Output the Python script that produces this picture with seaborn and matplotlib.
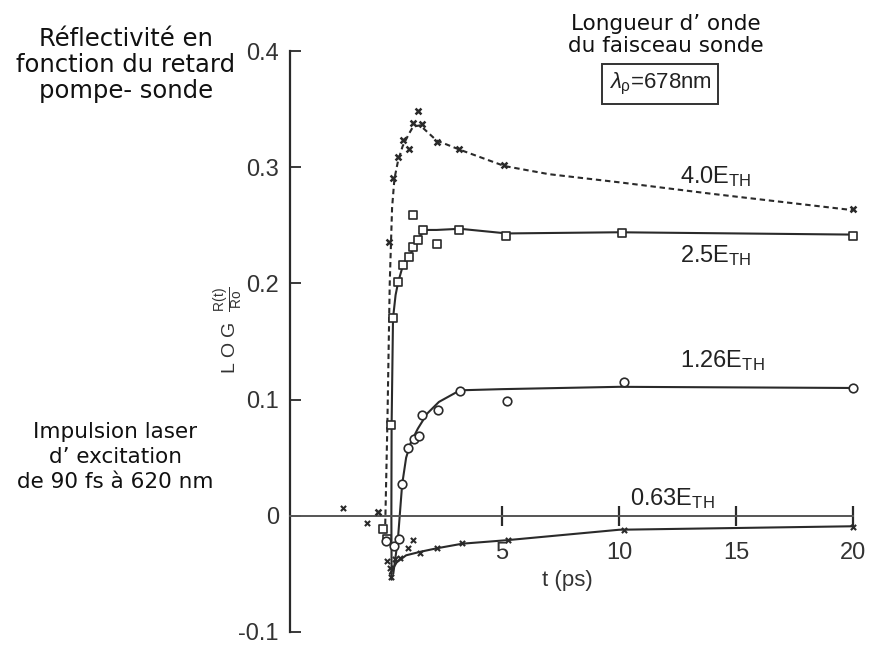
import matplotlib
matplotlib.use("Agg")
import matplotlib.pyplot as plt
import seaborn as sns

# Pump-probe reflectivity, LOG R(t)/Ro versus delay t (ps), four pump fluences
# measured points
t_40 = [-0.3, 0.17, 0.34, 0.56, 0.77, 1.03, 1.2, 1.41, 1.58, 2.2, 3.16, 5.1, 20.0]
r_40 = [0.003, 0.236, 0.291, 0.309, 0.323, 0.316, 0.338, 0.348, 0.337, 0.322, 0.316, 0.302, 0.264]

t_25 = [-0.09, 0.09, 0.26, 0.34, 0.56, 0.77, 1.03, 1.2, 1.2, 1.41, 1.62, 2.2, 3.16, 5.17, 10.1, 20.0]
r_25 = [-0.011, -0.020, 0.078, 0.170, 0.201, 0.216, 0.223, 0.231, 0.259, 0.237, 0.246, 0.234, 0.246, 0.241, 0.243, 0.241]

t_126 = [0.04, 0.4, 0.6, 0.73, 0.98, 1.24, 1.45, 1.58, 2.26, 3.2, 5.2, 10.2, 20.0]
r_126 = [-0.022, -0.026, -0.020, 0.027, 0.058, 0.066, 0.069, 0.087, 0.091, 0.107, 0.099, 0.115, 0.110]

t_063 = [-1.8, -0.77, 0.07, 0.2, 0.25, 0.43, 0.64, 1.0, 1.2, 1.5, 2.2, 3.3, 5.25, 10.2, 20.0]
r_063 = [0.007, -0.006, -0.039, -0.045, -0.053, -0.037, -0.036, -0.028, -0.021, -0.032, -0.028, -0.023, -0.021, -0.012, -0.0095]

# hand-drawn guide curves through each set
c40_t = [0.0, 0.1, 0.2, 0.3, 0.4, 0.55, 0.75, 1.0, 1.2, 1.5, 2.2, 3.2, 5.1, 7.0, 10.0, 14.0, 20.0]
c40_r = [-0.015, 0.08, 0.2, 0.265, 0.29, 0.305, 0.318, 0.328, 0.335, 0.336, 0.323, 0.315, 0.301, 0.294, 0.287, 0.277, 0.263]

c25_t = [0.28, 0.27, 0.28, 0.34, 0.45, 0.56, 0.77, 1.05, 1.3, 1.5, 1.7, 2.2, 3.2, 5.2, 10.0, 20.0]
c25_r = [-0.055, 0.0, 0.078, 0.17, 0.19, 0.201, 0.216, 0.224, 0.233, 0.241, 0.246, 0.246, 0.247, 0.243, 0.244, 0.242]

c126_t = [0.35, 0.55, 0.73, 0.9, 1.1, 1.4, 1.8, 2.3, 3.2, 5.0, 10.0, 20.0]
c126_r = [-0.05, -0.02, 0.027, 0.05, 0.063, 0.075, 0.088, 0.098, 0.108, 0.109, 0.111, 0.110]

c063_t = [0.2, 0.5, 0.9, 1.5, 2.2, 3.3, 5.2, 10.0, 20.0]
c063_r = [-0.05, -0.040, -0.034, -0.031, -0.028, -0.024, -0.021, -0.012, -0.009]

x_ticks = [5, 10, 15, 20]
y_ticks = [-0.1, 0.0, 0.1, 0.2, 0.3, 0.4]
y_tick_labels = ["-0.1", "0", "0.1", "0.2", "0.3", "0.4"]

sns.set_theme(style="white")
plt.rcParams["font.family"] = ["Liberation Sans", "DejaVu Sans"]
plt.rcParams["mathtext.fontset"] = "custom"
plt.rcParams["mathtext.rm"] = "Liberation Sans"
plt.rcParams["mathtext.it"] = "Liberation Sans:italic"
plt.rcParams["mathtext.bf"] = "Liberation Sans:bold"

W, H = 869, 646
INK = "#2a2a2a"

fig = plt.figure(figsize=(W / 100, H / 100), dpi=100)
ax = fig.add_axes([290 / W, 14 / H, 575 / W, 581 / H])
ax.set_facecolor("white")


def fpos(x, y):
    return x / W, 1 - y / H


# guide curves
sns.lineplot(x=c40_t, y=c40_r, ax=ax, color=INK, lw=1.5, sort=False,
             estimator=None, linestyle=(0, (2.6, 1.8)))
for ct, cr in [(c25_t, c25_r), (c126_t, c126_r), (c063_t, c063_r)]:
    sns.lineplot(x=ct, y=cr, ax=ax, color=INK, lw=1.5, sort=False, estimator=None)

# measured points
sns.scatterplot(x=t_40, y=r_40, ax=ax, marker="x", s=18, color=INK, linewidth=1.8, zorder=5)
sns.scatterplot(x=t_063, y=r_063, ax=ax, marker="x", s=14, color=INK, linewidth=1.5, zorder=5)
sns.scatterplot(x=t_25, y=r_25, ax=ax, marker="s", s=40, facecolor="white",
                edgecolor=INK, linewidth=1.2, zorder=6)
sns.scatterplot(x=t_126, y=r_126, ax=ax, marker="o", s=38, facecolor="white",
                edgecolor=INK, linewidth=1.2, zorder=6)

ax.set_xlim(-4.06, 20.5)
ax.set_ylim(-0.1, 0.4)

for side in ("top", "right"):
    ax.spines[side].set_visible(False)
ax.spines["left"].set_color(INK)
ax.spines["left"].set_linewidth(1.6)
ax.spines["left"].set_bounds(-0.1, 0.4)
ax.spines["bottom"].set_position(("data", 0))
ax.spines["bottom"].set_bounds(-4.06, 20)
ax.spines["bottom"].set_color("#555555")
ax.spines["bottom"].set_linewidth(1.4)

ax.set_yticks(y_ticks)
ax.set_yticklabels(y_tick_labels)
ax.tick_params(axis="y", direction="in", length=8, width=1.3, color=INK,
               labelsize=17, labelcolor="#333333", pad=8, left=True)
ax.set_xticks(x_ticks)
ax.set_xticklabels([str(v) for v in x_ticks])
ax.tick_params(axis="x", direction="inout", length=14, width=1.6, color=INK,
               labelsize=17, labelcolor="#333333", pad=12, bottom=True)
ax.set_xlabel("")
ax.set_ylabel("")

# axis titles
ax.text(7.8, -0.056, "t (ps)", fontsize=16, color="#333333", ha="center", va="center")
fig.text(*fpos(229, 330), r"L O G  $\frac{\mathrm{R(t)}}{\mathrm{Ro}}$", rotation=90,
         fontsize=14, color="#333333", ha="center", va="center")

# fluence labels
lab_kw = dict(fontsize=17, color="#222222", ha="left", va="center")
fig.text(*fpos(680, 177), r"4.0E$_{\mathrm{TH}}$", **lab_kw)
fig.text(*fpos(680, 256), r"2.5E$_{\mathrm{TH}}$", **lab_kw)
fig.text(*fpos(680, 361), r"1.26E$_{\mathrm{TH}}$", **lab_kw)
fig.text(*fpos(630, 499), r"0.63E$_{\mathrm{TH}}$", **lab_kw)

# probe wavelength box
fig.text(*fpos(660, 84), r"$\lambda_{\mathrm{\rho}}$=678nm", fontsize=16, color="#222222",
         ha="center", va="center",
         bbox=dict(boxstyle="square,pad=0.3", fc="white", ec="#333333", lw=1.4))

# annotations
note_kw = dict(family=["DejaVu Sans"], color="#111111", ha="center", va="center")
fig.text(*fpos(126, 65), "Réflectivité en\nfonction du retard\npompe- sonde",
         fontsize=17.5, linespacing=1.12, **note_kw)
fig.text(*fpos(666, 35), "Longueur d\u2019 onde\ndu faisceau sonde",
         fontsize=15.5, linespacing=1.15, **note_kw)
fig.text(*fpos(115, 457), "Impulsion laser\nd\u2019 excitation\nde 90 fs à 620 nm",
         fontsize=15.5, linespacing=1.3, **note_kw)

fig.savefig("out.png", dpi=100, facecolor="white")
